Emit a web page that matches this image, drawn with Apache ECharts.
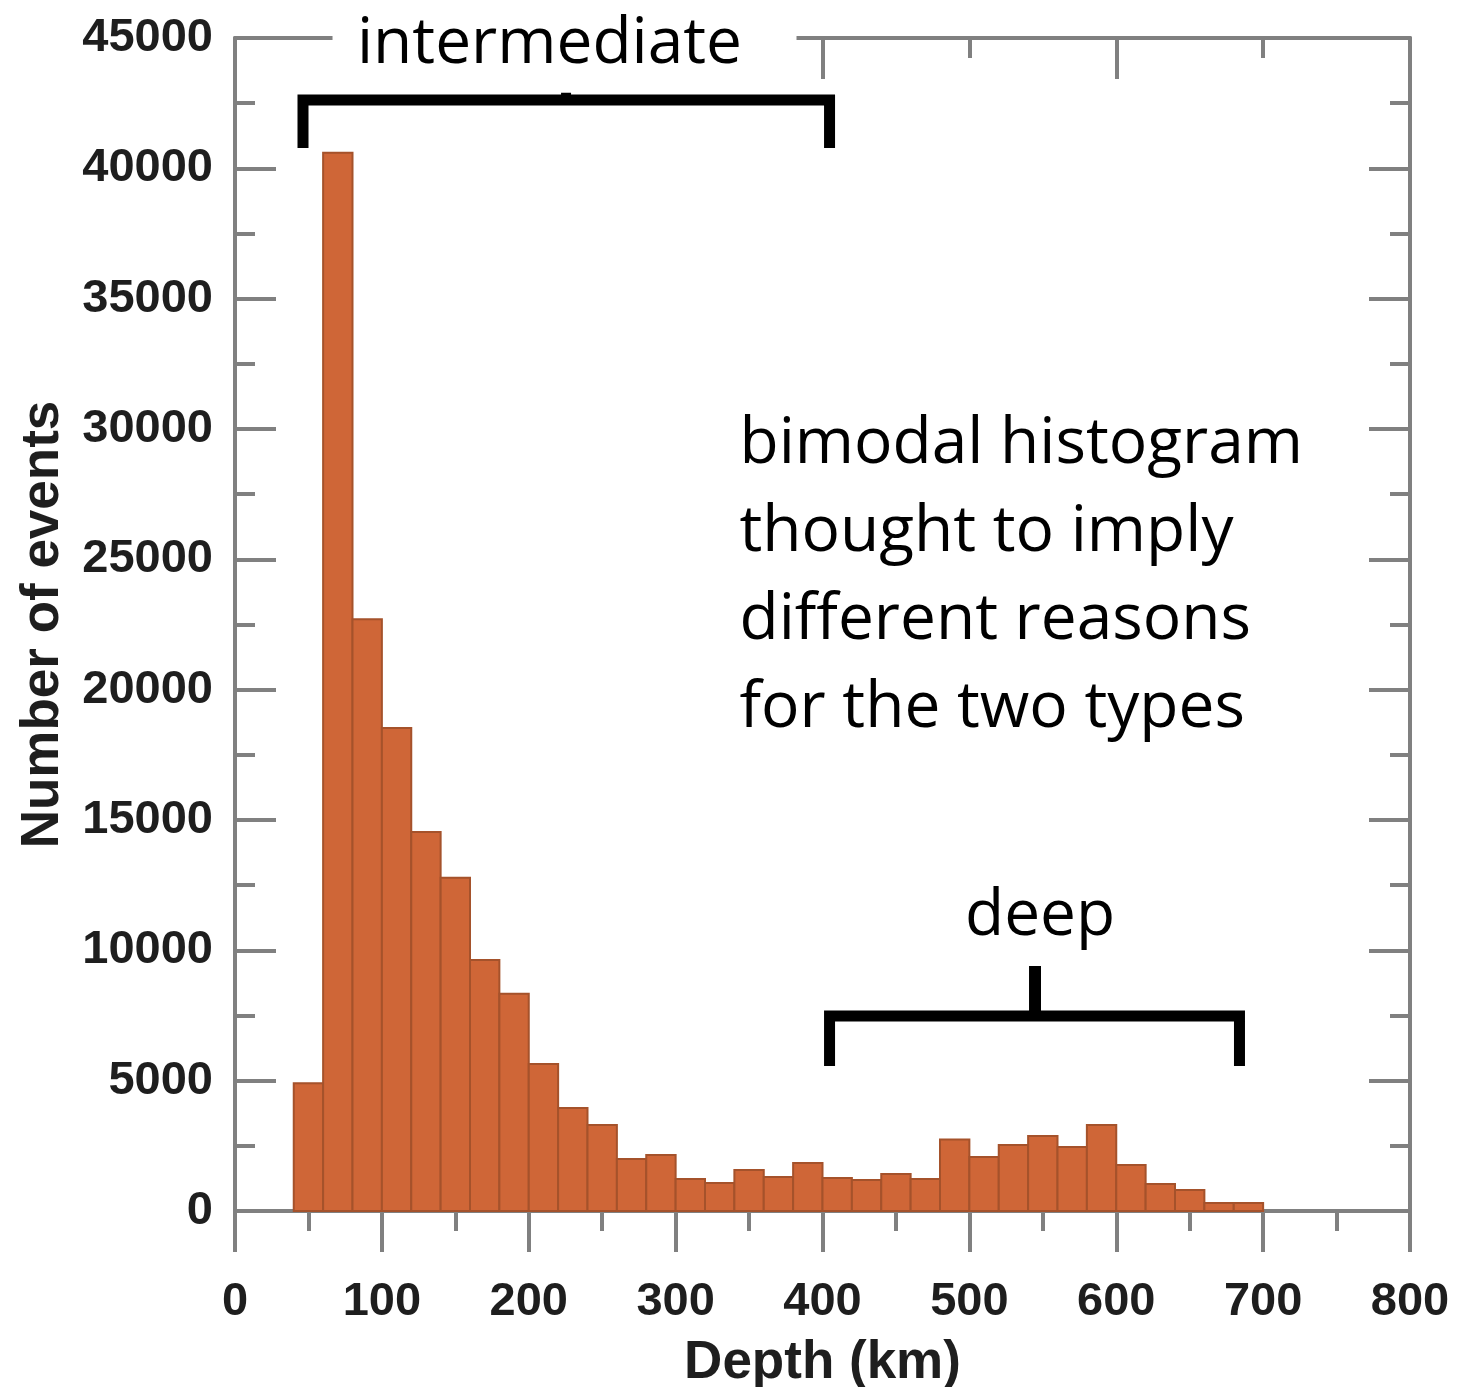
<!DOCTYPE html>
<html><head><meta charset="utf-8">
<script src="https://cdn.jsdelivr.net/npm/echarts@6/dist/echarts.min.js"></script>
<style>html,body{margin:0;padding:0;background:#fff}#c{width:1457px;height:1387px}</style>
</head><body><div id="c"></div>
<script>
// Histogram bins (km): start of each 20 km bin
const binStarts = [40,60,80,100,120,140,160,180,200,220,240,260,280,300,320,340,360,380,400,420,440,460,480,500,520,540,560,580,600,620,640,660,680];
const binWidth = 20;
// Number of events per bin
const counts = [4900,40600,22700,18530,14540,12780,9630,8330,5640,3950,3300,1995,2150,1230,1070,1570,1300,1840,1265,1190,1420,1230,2740,2070,2530,2880,2460,3300,1765,1040,810,310,310];
// Annotation texts
const noteIntermediate = 'intermediate';
const noteDeep = 'deep';
const noteMain = ['bimodal histogram','thought to imply','different reasons','for the two types'];

const chart = echarts.init(document.getElementById('c'), null, {renderer:'canvas'});
const axisColor = '#808080';
const labelFont = {fontFamily:'Liberation Sans, Arial, sans-serif', fontWeight:'bold', fontSize:47, color:'#1e1e1e'};
const nameFont = {fontFamily:'Liberation Sans, Arial, sans-serif', fontWeight:'bold', fontSize:53, color:'#1e1e1e'};
const plain = v => String(v);

function axisCommon(extra){
  return Object.assign({
    type:'value', min:0,
    axisLine:{show:true, onZero:false, lineStyle:{color:axisColor, width:4}},
    splitLine:{show:false}, minorSplitLine:{show:false}
  }, extra);
}

chart.setOption({
  animation:false,
  backgroundColor:'#ffffff',
  grid:{left:235, right:47, top:38, bottom:176, containLabel:false, outerBoundsMode:'none'},
  xAxis:[
    axisCommon({position:'bottom', max:800, interval:100,
      axisTick:{show:true, inside:false, length:41, lineStyle:{color:axisColor, width:4}},
      minorTick:{show:true, splitNumber:2, length:20, lineStyle:{color:axisColor, width:4}},
      axisLabel:Object.assign({margin:68, formatter:plain}, labelFont),
      name:'Depth (km)', nameLocation:'middle', nameGap:126, nameTextStyle:nameFont}),
    axisCommon({position:'top', max:800, interval:200,
      axisTick:{show:true, inside:true, length:41, lineStyle:{color:axisColor, width:4}},
      minorTick:{show:true, splitNumber:2, length:20, lineStyle:{color:axisColor, width:4}},
      axisLabel:{show:false}})
  ],
  yAxis:[
    axisCommon({position:'left', max:45000, interval:5000,
      axisTick:{show:true, inside:true, length:41, lineStyle:{color:axisColor, width:4}},
      minorTick:{show:true, splitNumber:2, length:20, lineStyle:{color:axisColor, width:4}},
      axisLabel:Object.assign({margin:22, formatter:plain}, labelFont),
      name:'Number of events', nameLocation:'middle', nameGap:165, nameRotate:90, nameTextStyle:nameFont}),
    axisCommon({position:'right', max:45000, interval:5000,
      axisTick:{show:true, inside:true, length:41, lineStyle:{color:axisColor, width:4}},
      minorTick:{show:true, splitNumber:2, length:20, lineStyle:{color:axisColor, width:4}},
      axisLabel:{show:false}})
  ],
  series:[{
    type:'custom', xAxisIndex:0, yAxisIndex:0, z:3,
    encode:{x:[0,1], y:2},
    data: binStarts.map((s,i)=>[s, s+binWidth, counts[i]]),
    renderItem:function(params, api){
      const p0 = api.coord([api.value(0), api.value(2)]);
      const p1 = api.coord([api.value(1), 0]);
      return {type:'rect', shape:{x:p0[0], y:p0[1], width:p1[0]-p0[0], height:p1[1]-p0[1]},
        style:{fill:'#cf6637', stroke:'#a5522b', lineWidth:2}};
    }
  }]
});

// Annotations anchored in data space
function px(x, y){ return chart.convertToPixel({gridIndex:0}, [x, y]); }
function bracket(x0, x1, yTop, yLeg){
  const a = px(x0, yLeg), b = px(x0, yTop), c = px(x1, yTop), d = px(x1, yLeg);
  return {type:'polyline', z:200, shape:{points:[a,b,c,d]},
    style:{stroke:'#000', lineWidth:11, fill:null, lineCap:'butt', lineJoin:'miter'}};
}
function vline(x, y0, y1, w){
  const a = px(x, y0), b = px(x, y1);
  return {type:'line', z:200, shape:{x1:a[0], y1:a[1], x2:b[0], y2:b[1]},
    style:{stroke:'#000', lineWidth:w, lineCap:'butt'}};
}
const annoFont = 'Open Sans, Lato, sans-serif';
const rA = px(66.4, 46000), rB = px(382.3, 42900);
const tInter = px(83.0, 44750);
const tMain = px(343.5, 31100);
const tDeep = px(497, 11300);
const graphics = [
  vline(225.4, 42625, 42900, 10),
  {type:'rect', z:150, shape:{x:rA[0], y:0, width:rB[0]-rA[0], height:rB[1]}, style:{fill:'#fff'}},
  {type:'text', z:210, x:tInter[0], y:tInter[1], style:{text:noteIntermediate, font:'64px '+annoFont, fill:'#000', verticalAlign:'middle', align:'left'}},
  bracket(46.3, 404.8, 42625, 40784),
  bracket(404.8, 683.9, 7481, 5563),
  vline(544.7, 7481, 9400, 12),
  {type:'text', z:210, x:tDeep[0], y:tDeep[1], style:{text:noteDeep, font:'64px '+annoFont, fill:'#000', verticalAlign:'middle', align:'left'}},
  {type:'text', z:210, x:tMain[0], y:tMain[1], style:{text:noteMain.join('\n'), font:'64px '+annoFont, lineHeight:88, fill:'#000', verticalAlign:'top', align:'left'}}
];
chart.setOption({graphic:graphics});
</script></body></html>
